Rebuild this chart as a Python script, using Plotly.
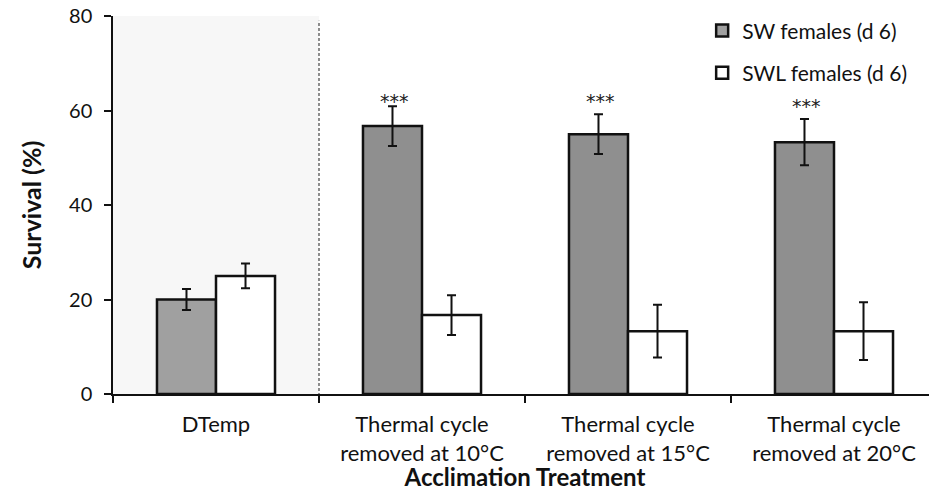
import plotly.graph_objects as go

categories = ["DTemp", "Thermal cycle<br>removed at 10°C", "Thermal cycle<br>removed at 15°C", "Thermal cycle<br>removed at 20°C"]
sw_values = [20.0, 56.7, 55.0, 53.3]
sw_errors = [2.2, 4.2, 4.2, 4.9]
swl_values = [25.0, 16.7, 13.3, 13.3]
swl_errors = [2.6, 4.2, 5.6, 6.1]
sig_labels = ["", "***", "***", "***"]
sig_y = [0, 62.0, 62.0, 61.0]

FONT = "Lato, 'Open Sans', sans-serif"

fig = go.Figure()
fig.add_trace(go.Bar(
    x=categories, y=sw_values, name="SW females (d 6)",
    marker=dict(color=["#a0a0a0", "#8f8f8f", "#8f8f8f", "#8f8f8f"],
                line=dict(color="#111111", width=2.5)),
    error_y=dict(type="data", array=sw_errors, color="#111111", thickness=2, width=4.5),
    legendgroup="a",
))
fig.add_trace(go.Bar(
    x=categories, y=swl_values, name="SWL females (d 6)",
    marker=dict(color="#ffffff", line=dict(color="#111111", width=2.5)),
    error_y=dict(type="data", array=swl_errors, color="#111111", thickness=2, width=4.5),
    legendgroup="b",
))

for c, lab, yy in zip(categories, sig_labels, sig_y):
    if lab:
        fig.add_annotation(x=c, y=yy, xref="x", yref="y", text=lab, showarrow=False,
                           xshift=-28, yanchor="middle",
                           font=dict(size=19, color="#222222", family="DejaVu Sans"))

fig.add_shape(type="rect", xref="x", yref="y", x0=-0.5, x1=0.5, y0=0, y1=80,
              fillcolor="#f7f7f7", line=dict(width=0), layer="below")
fig.add_shape(type="line", xref="x", yref="y", x0=0.5, x1=0.5, y0=-1.5, y1=79,
              line=dict(color="#444444", width=1.2, dash="3px,2px"))

fig.update_layout(
    width=929, height=483,
    margin=dict(l=105, r=0, t=8, b=97),
    paper_bgcolor="white", plot_bgcolor="white",
    barmode="group", bargap=0.427, bargroupgap=0,
    font=dict(family=FONT, color="#111111"),
    legend=dict(x=0.715, y=1.015, xanchor="left", yanchor="top",
                font=dict(size=21, family=FONT, color="#111111"),
                tracegroupgap=12, bgcolor="rgba(0,0,0,0)", itemwidth=30),
    showlegend=True,
)
fig.update_xaxes(
    type="category", range=[-0.5, 3.5], showline=True, linecolor="#111111", linewidth=1.5,
    ticks="outside", tickson="boundaries", ticklen=7, tickcolor="#111111", tickwidth=1.5,
    showgrid=False, tickfont=dict(size=22, family=FONT, color="#111111"), automargin=False,
    ticklabelstandoff=10,
    title=dict(text="<b>Acclimation Treatment</b>", font=dict(size=24, family=FONT, color="#111111"), standoff=0),
)
fig.update_yaxes(
    range=[0, 80], tickvals=[0, 20, 40, 60, 80], showline=True, linecolor="#111111", linewidth=1.5,
    ticks="outside", ticklen=7, tickcolor="#111111", tickwidth=1.5, showgrid=False, zeroline=False,
    tickfont=dict(size=20, family=FONT, color="#111111"), automargin=False, ticklabelstandoff=8,
    ticklabeloverflow="allow",
    title=dict(text="<b>Survival (%)</b>", font=dict(size=25, family=FONT, color="#111111"), standoff=20),
)

fig.write_html("out.html")
